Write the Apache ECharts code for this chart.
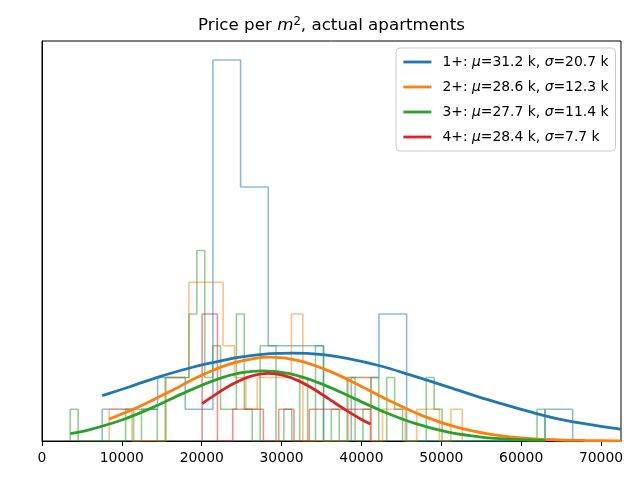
<!DOCTYPE html>
<html><head><meta charset="utf-8">
<script src="https://cdn.jsdelivr.net/npm/echarts@6/dist/echarts.min.js"></script>
<style>html,body{margin:0;padding:0;background:#fff}#c{width:640px;height:480px}</style>
</head><body><div id="c"></div>
<script>
// ---- data ----
const curveNames = ['1+: μ=31.2 k, σ=20.7 k', '2+: μ=28.6 k, σ=12.3 k', '3+: μ=27.7 k, σ=11.4 k', '4+: μ=28.4 k, σ=7.7 k'];
const xTicks = [0, 10000, 20000, 30000, 40000, 50000, 60000, 70000];

// histograms: first bin edge, bin width, heights per bin
const blueHistStart = 7542, blueHistWidth = 3465;
const blueCounts = [1,1,2,1,12,8,3,3,0,2,4,0,0,0,0,0,1];
const orangeHistStart = 8418, orangeHistWidth = 1426;
const orangeCounts = [1,1,0,0,0,2,2,5,5,5,3,2,1,2,2,2,4,0,0,0,0,2,2,0,1,1,0,1,1,0,1];
const greenHistStart = 3540, greenHistWidth = 990.6;
const greenCounts = [1,0,0,0,0,0,0,1,0,1, 1,0,2,2,2,4,6,2,3,1, 1,4,1,0,3,3,0,1,0,2, 0,3,0,1,0,2,0,1,2,0, 2,1,0,0,0,2,1,0,0,0, 0,0,0,0,0,0,0,0,0,1];
const redHistStart = 20050, redHistWidth = 1917;
const redCounts = [4,0,1,1,0,1,0,1,1,1,1];

// fitted curves: x (price), y (same units as histogram heights)
const blueCurveX = [7540,11000,14760,18500,21000,24800,28500,31400,34800,38500,42300,46000,51000,55700,61400,65700,72500];
const blueCurveY = [1.43,1.71,2.03,2.30,2.45,2.64,2.75,2.77,2.73,2.59,2.37,2.09,1.69,1.31,0.90,0.64,0.37];
const orangeCurveX = [8400,12000,16000,20000,24000,28600,32000,36000,40000,44000,48000,52000,56000,60000,64000,68000,72500];
const orangeCurveY = [0.69,1.06,1.56,2.07,2.46,2.64,2.54,2.20,1.72,1.21,0.76,0.43,0.22,0.10,0.04,0.016,0.005];
const greenCurveX = [3540,6000,10000,14000,18000,22000,25000,27700,31000,35000,39000,43000,47000,51000,55000,59000,63000];
const greenCurveY = [0.23,0.36,0.66,1.07,1.54,1.95,2.15,2.21,2.12,1.80,1.35,0.90,0.53,0.27,0.125,0.05,0.018];
const redCurveX = [20050,22000,24000,26000,28400,30000,32000,34000,36000,38000,40000,41140];
const redCurveY = [1.18,1.51,1.81,2.03,2.13,2.08,1.91,1.64,1.31,0.98,0.68,0.535];

const colors = ['#1f77b4', '#ff7f0e', '#2ca02c', '#d62728'];
const histColors = ['rgba(31,119,180,0.5)', 'rgba(255,127,14,0.5)', 'rgba(44,160,44,0.5)', 'rgba(214,39,40,0.5)'];

function stepPoints(start, width, counts) {
  const pts = [[start, 0]];
  counts.forEach((c, i) => {
    const a = start + i * width, b = a + width;
    pts.push([a, c], [b, c]);
  });
  pts.push([start + counts.length * width, 0]);
  return pts;
}
function zip(xs, ys) { return xs.map((x, i) => [x, ys[i]]); }

const hists = [
  stepPoints(blueHistStart, blueHistWidth, blueCounts),
  stepPoints(orangeHistStart, orangeHistWidth, orangeCounts),
  stepPoints(greenHistStart, greenHistWidth, greenCounts),
  stepPoints(redHistStart, redHistWidth, redCounts)
];
const curves = [
  zip(blueCurveX, blueCurveY), zip(orangeCurveX, orangeCurveY),
  zip(greenCurveX, greenCurveY), zip(redCurveX, redCurveY)
];

const series = [];
for (let i = 0; i < 4; i++) {
  series.push({
    name: 'hist' + i, type: 'line', data: hists[i], symbol: 'none', silent: true,
    lineStyle: { color: histColors[i], width: 1.6 }, itemStyle: { color: histColors[i] },
    animation: false, z: 2
  });
  series.push({
    name: curveNames[i], type: 'line', data: curves[i], symbol: 'none', showSymbol: false, silent: true,
    smooth: 0.35,
    lineStyle: { color: colors[i], width: 2.8 }, itemStyle: { color: colors[i] },
    animation: false, z: 3
  });
}

const FONT = 'DejaVu Sans';
const chart = echarts.init(document.getElementById('c'), null, { renderer: 'canvas' });
chart.setOption({
  animation: false,
  backgroundColor: '#fff',
  grid: { left: 42, right: 19, top: 41, bottom: 39, show: true, borderColor: '#000', borderWidth: 1, backgroundColor: 'transparent' },
  xAxis: {
    type: 'value', min: xTicks[0], max: 72500, interval: xTicks[1] - xTicks[0],
    axisLine: { show: true, lineStyle: { color: '#000', width: 1 } },
    axisTick: { show: true, length: 5, lineStyle: { color: '#000' } },
    axisLabel: { show: true, margin: 10, color: '#000', fontFamily: FONT, fontSize: 13.9, showMaxLabel: false,
      formatter: v => String(v) },
    splitLine: { show: false }
  },
  yAxis: {
    type: 'value', min: 0, max: 12.6,
    axisLine: { show: true, lineStyle: { color: '#000' } },
    axisTick: { show: false }, axisLabel: { show: false }, splitLine: { show: false }
  },
  legend: {
    data: curveNames, orient: 'vertical', left: 396, top: 48,
    itemWidth: 28, itemHeight: 14, itemGap: 11,
    padding: [7, 7, 7, 6],
    backgroundColor: 'rgba(255,255,255,0.8)', borderColor: '#cccccc', borderWidth: 1, borderRadius: 4,
    selectedMode: false,
    itemStyle: { opacity: 0 },
    lineStyle: { width: 2.8, opacity: 1 },
    textStyle: { fontFamily: FONT, fontSize: 13.9, color: '#000', padding: [0, 0, 0, 6],
      rich: { i: { fontFamily: FONT, fontSize: 13.9, fontStyle: 'italic', color: '#000' } } },
    formatter: name => name.replace('μ', '{i|μ}').replace('σ', '{i|σ}')
  },
  graphic: [{
    type: 'text', x: 331.5, y: 26, silent: true,
    style: {
      text: 'Price per {i|m}{s|2}, actual apartments',
      fontFamily: FONT, fontSize: 16.7, fill: '#000', align: 'center', verticalAlign: 'middle',
      rich: {
        i: { fontFamily: FONT, fontSize: 16.7, fontStyle: 'italic' },
        s: { fontFamily: FONT, fontSize: 11.7, padding: [0, 0, 9, 0] }
      }
    }
  }],
  series: series
});
</script>
</body></html>
